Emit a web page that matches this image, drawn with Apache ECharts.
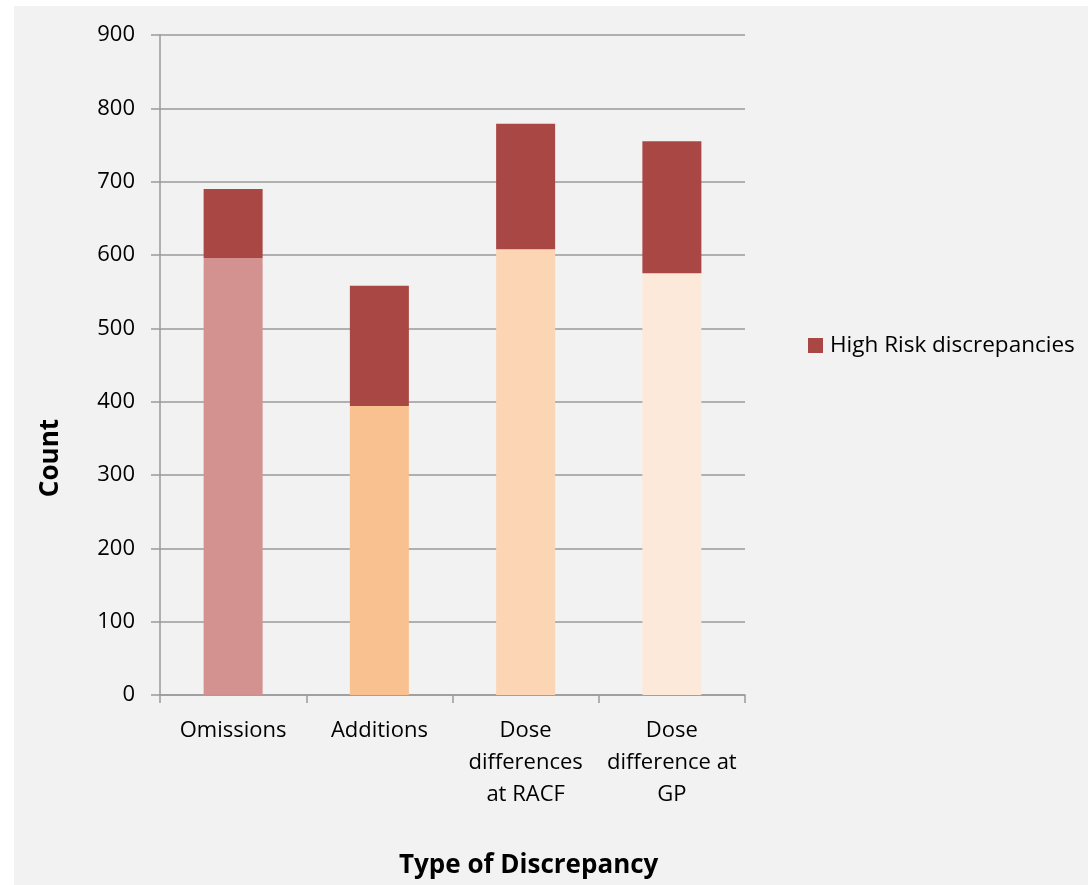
<!DOCTYPE html>
<html>
<head>
<meta charset="utf-8">
<script src="https://cdn.jsdelivr.net/npm/echarts@6/dist/echarts.min.js"></script>
<style>
  html, body { margin: 0; padding: 0; background: #ffffff; }
  #main { width: 1091px; height: 885px; }
</style>
</head>
<body>
<div id="main"></div>
<script>
// categories along the x axis
var categories = ['Omissions', 'Additions', 'Dose\ndifferences\nat RACF', 'Dose\ndifference at\nGP'];
// lower (non high-risk) part of each bar
var otherCounts = [596, 394, 608, 575];
// high risk part stacked on top
var highRiskCounts = [94, 164, 171, 180];
var baseColors = ['#d39290', '#f9c090', '#fbd5b4', '#fde9d9'];
var yMin = 0, yMax = 900, yStep = 100;

var font = '"Open Sans", "Noto Sans", sans-serif';
var chart = echarts.init(document.getElementById('main'));

var option = {
  backgroundColor: '#ffffff',
  animation: false,
  textStyle: { fontFamily: font },
  graphic: [
    {
      type: 'rect', z: -10, silent: true,
      shape: { x: 14, y: 6, width: 1074, height: 879 },
      style: { fill: '#f2f2f2' }
    },
    {
      type: 'text', left: 38, top: 419,
      rotation: Math.PI / 2,
      style: { text: 'Count', font: 'bold 26px "Open Sans"', fill: '#000' }
    },
    {
      type: 'text', left: 399, top: 853,
      style: { text: 'Type of Discrepancy', font: 'bold 26px "Open Sans"', fill: '#000' }
    }
  ],
  legend: {
    data: ['High Risk discrepancies'],
    left: 808, top: 334, padding: 0,
    itemWidth: 15, itemHeight: 15, itemGap: 10,
    icon: 'rect',
    textStyle: { fontSize: 22.5, color: '#000', fontFamily: font, padding: [0, 0, 0, 2] }
  },
  grid: { left: 160, top: 35, right: 346, bottom: 190, containLabel: false },
  xAxis: {
    type: 'category',
    data: categories,
    axisLine: { lineStyle: { color: '#9a9a9a', width: 1.5 } },
    axisTick: { show: true, length: 8, lineStyle: { color: '#9a9a9a', width: 1.5 } },
    axisLabel: { color: '#000', fontSize: 22, lineHeight: 32, margin: 20, interval: 0, fontFamily: font }
  },
  yAxis: {
    type: 'value',
    min: yMin, max: yMax, interval: yStep,
    axisLine: { show: true, lineStyle: { color: '#9a9a9a', width: 1.5 } },
    axisTick: { show: true, length: 9, lineStyle: { color: '#9a9a9a', width: 1.5 } },
    splitLine: { lineStyle: { color: '#9a9a9a', width: 1.5 } },
    axisLabel: { color: '#000', fontSize: 22, margin: 25, fontFamily: font }
  },
  series: [
    {
      name: 'Other discrepancies',
      type: 'bar',
      stack: 'total',
      barWidth: 59,
      data: otherCounts.map(function (v, i) {
        return { value: v, itemStyle: { color: baseColors[i] } };
      })
    },
    {
      name: 'High Risk discrepancies',
      type: 'bar',
      stack: 'total',
      barWidth: 59,
      itemStyle: { color: '#a94744' },
      data: highRiskCounts
    }
  ]
};

chart.setOption(option);
</script>
</body>
</html>
